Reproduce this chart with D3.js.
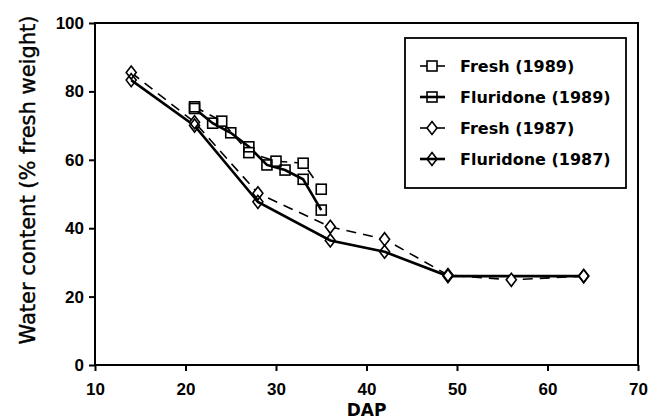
<!DOCTYPE html>
<html lang="en">
<head>
<meta charset="UTF-8">
<title>Water content vs DAP</title>
<script src="https://d3js.org/d3.v7.min.js"></script>
<style>
    body { margin: 0; padding: 0; background: #fff; }
    svg { display: block; font-family: "DejaVu Sans", sans-serif; }
    .tick text { font-size: 17px; font-weight: bold; fill: #000; }
    .axis path, .axis line { stroke: #000; stroke-width: 2px; }
</style>
</head>
<body>
<svg width="652" height="419"></svg>
<script>
    // DAP values and water content (% fresh weight)
    const fresh1989Dap = [21, 24, 27, 30, 33, 35];
    const fresh1989Val = [75.5, 71.3, 62.1, 59.6, 59.0, 51.4];

    const flur1989Dap = [21, 23, 25, 27, 29, 31, 33, 35];
    const flur1989Val = [75.0, 70.7, 67.9, 63.8, 58.5, 57.0, 54.3, 45.3];

    const fresh1987Dap = [14, 21, 28, 36, 42, 49, 56, 64];
    const fresh1987Val = [85.5, 71.0, 50.2, 40.4, 36.8, 26.3, 24.9, 26.0];

    const flur1987Dap = [14, 21, 28, 36, 42, 49, 64];
    const flur1987Val = [83.3, 70.0, 47.7, 36.4, 33.1, 26.0, 26.0];

    const xTicks = [10, 20, 30, 40, 50, 60, 70];
    const yTicks = [0, 20, 40, 60, 80, 100];

    const seriesNames = ["Fresh (1989)", "Fluridone (1989)", "Fresh (1987)", "Fluridone (1987)"];

    const series = [
        { name: seriesNames[0], dap: fresh1989Dap, val: fresh1989Val, marker: "square", dashed: true },
        { name: seriesNames[1], dap: flur1989Dap, val: flur1989Val, marker: "square", dashed: false },
        { name: seriesNames[2], dap: fresh1987Dap, val: fresh1987Val, marker: "diamond", dashed: true },
        { name: seriesNames[3], dap: flur1987Dap, val: flur1987Val, marker: "diamond", dashed: false }
    ];

    const svg = d3.select("svg");
    const plotL = 95, plotR = 638, plotT = 23, plotB = 365;

    const x = d3.scaleLinear().domain([10, 70]).range([plotL, plotR]);
    const y = d3.scaleLinear().domain([0, 100]).range([plotB, plotT]);

    // frame
    svg.append("rect")
        .attr("x", plotL).attr("y", plotT)
        .attr("width", plotR - plotL).attr("height", plotB - plotT)
        .attr("fill", "none").attr("stroke", "#000").attr("stroke-width", 2);

    svg.append("g")
        .attr("class", "axis")
        .attr("transform", `translate(0,${plotB})`)
        .call(d3.axisBottom(x).tickValues(xTicks).tickSize(6).tickPadding(12).tickSizeOuter(0))
        .call(g => g.select(".domain").remove());

    svg.append("g")
        .attr("class", "axis")
        .attr("transform", `translate(${plotL},0)`)
        .call(d3.axisLeft(y).tickValues(yTicks).tickSize(6).tickPadding(5).tickSizeOuter(0))
        .call(g => g.select(".domain").remove());

    svg.append("text")
        .attr("x", (plotL + plotR) / 2).attr("y", 416)
        .attr("text-anchor", "middle")
        .attr("font-size", 17).attr("font-weight", "bold")
        .text("DAP");

    svg.append("text")
        .attr("transform", "translate(35,180) rotate(-90)")
        .attr("text-anchor", "middle")
        .attr("font-size", 21)
        .attr("stroke", "#000").attr("stroke-width", 0.4)
        .text("Water content (% fresh weight)");

    // fresh markers are drawn hollow over the line, fluridone ones let the line show through
    function drawMarker(g, type, cx, cy, fill) {
        if (type === "square") {
            g.append("rect")
                .attr("x", cx - 5).attr("y", cy - 5)
                .attr("width", 10).attr("height", 10)
                .attr("fill", fill).attr("stroke", "#000").attr("stroke-width", 1.6);
        } else {
            g.append("path")
                .attr("d", `M${cx},${cy - 6.5}L${cx + 5},${cy}L${cx},${cy + 6.5}L${cx - 5},${cy}Z`)
                .attr("fill", fill).attr("stroke", "#000").attr("stroke-width", 1.6);
        }
    }

    const line = d3.line().x(d => x(d[0])).y(d => y(d[1]));

    series.forEach(s => {
        const pts = s.dap.map((d, i) => [d, s.val[i]]);
        svg.append("path")
            .datum(pts)
            .attr("d", line)
            .attr("fill", "none")
            .attr("stroke", "#000")
            .attr("stroke-width", s.dashed ? 1.6 : 2.6)
            .attr("stroke-dasharray", s.dashed ? "10,7" : null);
    });

    series.forEach(s => {
        const g = svg.append("g");
        s.dap.forEach((d, i) => drawMarker(g, s.marker, x(d), y(s.val[i]), s.dashed ? "#fff" : "none"));
    });

    // legend
    const lg = svg.append("g");
    lg.append("rect")
        .attr("x", 405).attr("y", 38)
        .attr("width", 221).attr("height", 150)
        .attr("fill", "#fff").attr("stroke", "#000").attr("stroke-width", 1.8);

    series.forEach((s, i) => {
        const cy = 66 + i * 31;
        lg.append("line")
            .attr("x1", 420).attr("x2", 445)
            .attr("y1", cy).attr("y2", cy)
            .attr("stroke", "#000").attr("stroke-width", s.dashed ? 1.6 : 2.6);
        drawMarker(lg, s.marker, 432, cy, s.dashed ? "#fff" : "none");
        lg.append("text")
            .attr("x", 460).attr("y", cy + 6)
            .attr("font-size", 16).attr("font-weight", "bold")
            .text(s.name);
    });
</script>
</body>
</html>
